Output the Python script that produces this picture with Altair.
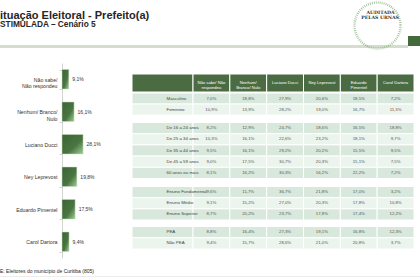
import altair as alt
import pandas as pd

# ---------------- data ----------------
candidates = ["Não sabe/\nNão respondeu", "Nenhum/ Branco/\nNulo", "Luciano Ducci",
              "Ney Leprevost", "Eduardo Pimentel", "Carol Dartora"]
totals = [9.1, 16.1, 28.1, 19.8, 17.5, 9.4]

table_columns = ["Não sabe/ Não\nrespondeu", "Nenhum/\nBranco/ Nulo", "Luciano Ducci",
                 "Ney Leprevost", "Eduardo\nPimentel", "Carol Dartora"]

sexo_rows = ["Masculino", "Feminino"]
masculino = [7.0, 18.8, 27.9, 20.6, 18.5, 7.2]
feminino = [10.9, 13.9, 28.2, 19.0, 16.7, 11.3]

idade_rows = ["De 16 a 24 anos", "De 25 a 34 anos", "De 35 a 44 anos",
              "De 45 a 59 anos", "60 anos ou mais"]
de16a24 = [8.2, 12.9, 24.7, 18.6, 16.5, 18.8]
de25a34 = [10.3, 16.1, 22.6, 23.2, 18.1, 9.7]
de35a44 = [9.5, 16.1, 29.2, 20.2, 15.5, 9.5]
de45a59 = [9.0, 17.5, 30.7, 20.3, 15.1, 7.5]
de60mais = [8.1, 16.2, 30.3, 16.2, 22.2, 7.2]

escolaridade_rows = ["Ensino Fundamental", "Ensino Médio", "Ensino Superior"]
fundamental = [9.6, 11.7, 36.7, 21.8, 17.0, 3.2]
medio = [9.1, 15.2, 27.0, 20.3, 17.8, 10.8]
superior = [8.7, 20.2, 23.7, 17.8, 17.4, 12.2]

pea_rows = ["PEA", "Não PEA"]
pea = [8.8, 16.4, 27.3, 19.1, 16.8, 12.3]
nao_pea = [9.4, 15.7, 28.6, 21.0, 20.8, 3.7]

title_text = "Situação Eleitoral - Prefeito(a)"
subtitle_text = "ESTIMULADA – Cenário 5"
footer_text = "BASE: Eleitores do município de Curitiba (805)"

# ---------------- styles ----------------
FONT = "Liberation Sans"
SERIF = "DejaVu Serif"
HDR = "#4b6b43"
DARK = "#d8e8dc"
LIGHT = "#ecf4ee"


def pct(v):
    return f"{v:.1f}".replace(".", ",") + "%"


def one(**kw):
    return pd.DataFrame([kw])


layers = []

# ---------------- header decorations ----------------
layers.append(alt.Chart(one(t=title_text)).mark_text(
    align="left", baseline="alphabetic", font=FONT, fontSize=11, fontWeight="bold",
    color="#262626").encode(x=alt.value(-7.3), y=alt.value(18.5), text="t:N"))
layers.append(alt.Chart(one(t=subtitle_text)).mark_text(
    align="left", baseline="alphabetic", font=FONT, fontSize=8.3, fontWeight="bold",
    color="#262626").encode(x=alt.value(-5.5), y=alt.value(27.3), text="t:N"))
layers.append(alt.Chart(one(a=1)).mark_rule(color="#d5decc", strokeWidth=3).encode(
    x=alt.value(0), x2=alt.value(408), y=alt.value(46.5)))
layers.append(alt.Chart(one(a=1)).mark_rect(color="#456b3c").encode(
    x=alt.value(408), x2=alt.value(421), y=alt.value(36), y2=alt.value(46)))
# logo ring + words
layers.append(alt.Chart(one(a=1)).mark_point(
    shape="circle", filled=False, size=2116, stroke="#7aa86f", strokeWidth=2.4,
    strokeDash=[0.8, 1.2], opacity=0.75).encode(
    x=alt.value(377.5), y=alt.value(25.5)))
layers.append(alt.Chart(one(t="AUDITADA")).mark_text(
    font=SERIF, fontSize=4.6, fontWeight="bold", color="#333333",
    baseline="alphabetic").encode(
    x=alt.value(380.5), y=alt.value(14.4), text="t:N"))
layers.append(alt.Chart(one(t="PELAS URNAS")).mark_text(
    font=SERIF, fontSize=4.6, fontWeight="bold", color="#333333",
    baseline="alphabetic").encode(
    x=alt.value(380), y=alt.value(19.2), text="t:N"))

# ---------------- bar chart ----------------
bar_df = pd.DataFrame({"cat": candidates, "pct": totals,
                       "lbl": [pct(v) for v in totals]})
bar_y_scale = alt.Scale(domain=candidates, range=[63, 258],
                        paddingInner=0.4, paddingOuter=0.2)
bar_x_scale = alt.Scale(domain=[0, 100], range=[62, 137])
grad = alt.LinearGradient(
    gradient="linear", x1=0, y1=0, x2=1, y2=1,
    stops=[alt.GradientStop(offset=0, color="#3c6434"),
           alt.GradientStop(offset=0.6, color="#4a7541"),
           alt.GradientStop(offset=1, color="#9fcf95")])
layers.append(alt.Chart(bar_df).mark_bar(
    color=grad, stroke="#c4dcbd", strokeWidth=0.5).encode(
    y=alt.Y("cat:N", scale=bar_y_scale, title=None,
            axis=alt.Axis(orient="left", offset=-62, domainColor="#c8c8c8",
                          domainWidth=0.8, tickColor="#c8c8c8", tickWidth=0.8,
                          tickSize=3, tickBand="extent", labelFont=FONT,
                          labelFontSize=5.2, labelColor="#333333", labelPadding=2,
                          labelLineHeight=6.6, labelLimit=100, grid=False,
                          labelExpr="split(datum.label, '\\n')")),
    x=alt.X("pct:Q", scale=bar_x_scale, axis=None)))
layers.append(alt.Chart(bar_df).mark_text(
    align="left", baseline="middle", dx=3.5, font=FONT, fontSize=5,
    color="#333333").encode(
    y=alt.Y("cat:N", scale=bar_y_scale, axis=None),
    x=alt.X("pct:Q", scale=bar_x_scale, axis=None),
    text="lbl:N"))

# ---------------- table ----------------
col_scale = alt.Scale(domain=table_columns, range=[193, 414],
                      paddingInner=0, paddingOuter=0)
lab_scale = alt.Scale(domain=["label"], range=[132, 193],
                      paddingInner=0, paddingOuter=0)

# header row
hdr_df = pd.DataFrame({"col": table_columns, "h": "h"})
hdr_lab = pd.DataFrame({"lc": ["label"], "h": ["h"]})
hdr_y = alt.Y("h:N", scale=alt.Scale(domain=["h"], range=[74, 92],
                                     paddingInner=0, paddingOuter=0), axis=None)
layers.append(alt.Chart(hdr_lab).mark_rect(color=HDR, stroke="white", strokeWidth=1).encode(
    x=alt.X("lc:N", scale=lab_scale, axis=None), y=hdr_y))
layers.append(alt.Chart(hdr_df).mark_rect(color=HDR, stroke="white", strokeWidth=1).encode(
    x=alt.X("col:N", scale=col_scale, axis=None), y=hdr_y))
layers.append(alt.Chart(hdr_df).mark_text(
    color="white", font=FONT, fontSize=4.2, lineBreak="\n", lineHeight=4.8,
    baseline="middle").encode(
    x=alt.X("col:N", scale=col_scale, axis=None), y=hdr_y, text="col:N"))

groups = [
    (sexo_rows, [masculino, feminino], [93, 115]),
    (idade_rows, [de16a24, de25a34, de35a44, de45a59, de60mais], [122.5, 178.5]),
    (escolaridade_rows, [fundamental, medio, superior], [186.5, 220]),
    (pea_rows, [pea, nao_pea], [226.5, 249]),
]

for rows, vals, rng in groups:
    recs = []
    labs = []
    for i, (r, vs) in enumerate(zip(rows, vals)):
        shade = DARK if i % 2 == 0 else LIGHT
        labs.append({"row": r, "lc": "label", "shade": shade})
        for c, v in zip(table_columns, vs):
            recs.append({"row": r, "col": c, "txt": pct(v), "shade": shade})
    df = pd.DataFrame(recs)
    ldf = pd.DataFrame(labs)
    y = alt.Y("row:N", scale=alt.Scale(domain=rows, range=rng,
                                       paddingInner=0, paddingOuter=0), axis=None)
    xc = alt.X("col:N", scale=col_scale, axis=None)
    xl = alt.X("lc:N", scale=lab_scale, axis=None)
    layers.append(alt.Chart(ldf).mark_rect(stroke="white", strokeWidth=1).encode(
        x=xl, y=y, color=alt.Color("shade:N", scale=None)))
    layers.append(alt.Chart(df).mark_rect(stroke="white", strokeWidth=1).encode(
        x=xc, y=y, color=alt.Color("shade:N", scale=None)))
    layers.append(alt.Chart(ldf).mark_text(
        align="left", baseline="middle", dx=4, font=FONT, fontSize=4.4,
        color="#444444").encode(
        x=alt.X("lc:N", scale=lab_scale, axis=None, bandPosition=0), y=y, text="row:N"))
    layers.append(alt.Chart(df).mark_text(
        baseline="middle", font=FONT, fontSize=4.3, color="#555555").encode(
        x=xc, y=y, text="txt:N"))

# ---------------- footer ----------------
layers.append(alt.Chart(one(t=footer_text)).mark_text(
    align="left", baseline="middle", font=FONT, fontSize=5, color="#222222").encode(
    x=alt.value(-10), y=alt.value(271), text="t:N"))
layers.append(alt.Chart(one(a=1)).mark_rule(color="#ececec", strokeWidth=1).encode(
    x=alt.value(0), x2=alt.value(420), y=alt.value(276.5)))

chart = alt.layer(*layers).resolve_scale(
    x="independent", y="independent"
).properties(
    width=420, height=280, padding=0, background="white",
    autosize=alt.AutoSizeParams(type="none"),
).configure_view(stroke=None)

chart.save("out.html", embed_options={"renderer": "svg", "actions": False})
